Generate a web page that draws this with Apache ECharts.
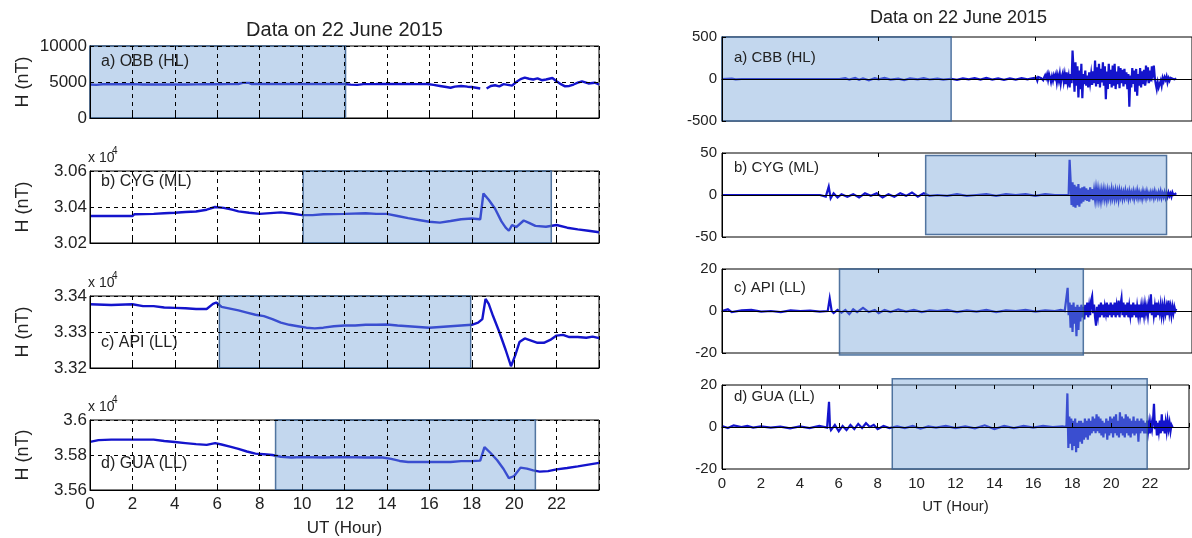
<!DOCTYPE html>
<html>
<head>
<meta charset="utf-8">
<script src="https://cdn.jsdelivr.net/npm/echarts@6/dist/echarts.min.js"></script>
<style>
html, body { margin: 0; padding: 0; background: #fff; }
#chart { width: 1192px; height: 538px; }
</style>
</head>
<body>
<div id="chart"></div>
<script>
// ---- H component (nT) against UT hour, 22 June 2015 ----
// Raw H at four stations: [hour, nT]
const obbH = [
  [0,4650],[0.3,4600],[0.6,4680],[1,4700],[1.5,4690],[2,4700],[2.5,4660],[3,4670],[3.5,4660],[4,4670],
  [4.5,4660],[5,4670],[5.5,4680],[6,4690],[6.5,4700],[7,4720],[7.2,4880],[7.5,4880],[7.6,4720],[8,4720],
  [9,4720],[10,4720],[11,4720],[12,4720],[12.3,4640],[12.6,4600],[12.9,4700],[13.5,4720],[14,4740],[14.5,4720],
  [15,4740],[15.5,4700],[15.9,4720],[16.2,4600],[16.5,4450],[16.8,4300],[17.0,4200],[17.2,4350],[17.5,4450],[17.8,4350],
  [18.0,4300],[18.2,4200],[18.4,4100],[18.5,null],[18.7,4100],[18.9,4450],[19.1,4550],[19.3,4400],[19.5,4700],[19.7,4600],
  [19.9,4500],[20.1,5000],[20.3,5400],[20.5,5600],[20.7,5450],[20.9,5350],[21.1,5500],[21.3,5250],[21.5,5350],[21.8,5550],
  [22.0,5100],[22.2,4700],[22.4,4400],[22.6,4450],[22.8,4650],[23.0,4900],[23.2,5100],[23.5,4800],[23.8,4900],[24,4650]
];
const cygH = [
  [0,30350],[1,30350],[2,30350],[2.1,30360],[3,30362],[3.5,30365],[4,30368],[4.5,30372],[5,30375],[5.5,30385],
  [5.9,30400],[6.3,30395],[6.7,30385],[7,30376],[7.5,30368],[8,30362],[8.5,30366],[9,30370],[9.5,30364],[10,30355],
  [10.5,30355],[11,30360],[12,30362],[13,30365],[13.5,30362],[14,30362],[14.5,30350],[15,30338],[15.5,30328],[16,30318],
  [16.5,30313],[17,30322],[17.5,30332],[18,30336],[18.4,30332],[18.55,30475],[18.8,30440],[19.1,30390],[19.4,30320],[19.6,30285],
  [19.75,30268],[19.9,30300],[20.1,30288],[20.45,30325],[20.7,30312],[21,30295],[21.5,30290],[22,30300],[22.5,30285],[23,30276],
  [23.5,30268],[24,30260]
];
const apiH = [
  [0,33377],[1,33375],[2,33377],[2.5,33372],[3,33372],[3.5,33368],[4,33367],[4.5,33366],[5,33364],[5.5,33364],
  [5.8,33378],[5.95,33382],[6.2,33370],[6.6,33365],[7,33360],[7.4,33354],[7.8,33348],[8.2,33344],[8.6,33336],[9,33326],
  [9.4,33320],[9.8,33316],[10.2,33312],[10.6,33310],[11,33312],[11.5,33316],[12,33318],[12.5,33318],[13,33320],[13.5,33320],
  [14,33321],[14.5,33318],[15,33316],[15.5,33314],[16,33312],[16.5,33314],[17,33316],[17.5,33318],[18,33320],[18.3,33326],
  [18.5,33336],[18.65,33392],[18.8,33378],[19,33345],[19.3,33300],[19.6,33250],[19.85,33205],[20.05,33235],[20.25,33272],[20.5,33282],
  [20.8,33276],[21.1,33270],[21.4,33270],[21.7,33278],[22,33290],[22.3,33292],[22.6,33286],[23,33286],[23.4,33284],[23.7,33287],
  [24,33283]
];
const guaH = [
  [0,35875],[0.4,35885],[1,35888],[2,35888],[3,35888],[3.5,35880],[4,35874],[4.5,35868],[5,35862],[5.5,35858],
  [5.9,35868],[6.2,35860],[6.6,35848],[7,35835],[7.4,35820],[7.8,35808],[8.2,35804],[8.6,35800],[9,35790],[9.5,35786],
  [10,35788],[11,35786],[12,35788],[13,35786],[13.8,35786],[14.2,35778],[14.6,35766],[15,35760],[16,35760],[17,35760],
  [17.5,35765],[18,35765],[18.4,35768],[18.6,35845],[18.9,35810],[19.2,35770],[19.5,35720],[19.75,35668],[20,35680],[20.3,35728],
  [20.6,35722],[20.9,35712],[21.2,35705],[21.6,35708],[22,35718],[22.5,35726],[23,35735],[23.5,35745],[24,35755]
];

// Filtered (detrended) H at four stations: [hour, nT]
const cbbDH = [
  [0,0],[0.5,5],[0.7,-5],[1,0],[2,0],[3,0],[4,0],[5,0],[6,0],[6.3,10],
  [6.5,-8],[6.8,12],[7,-10],[7.2,8],[7.5,-15],[7.8,10],[8,-5],[8.3,12],[8.6,-8],[9,5],
  [9.3,-12],[9.6,8],[10,-5],[10.3,10],[10.6,-6],[11,5],[11.3,-8],[11.7,3],[12,-10],[12.3,8],
  [12.6,-5],[12.9,10],[13.2,-8],[13.5,12],[13.8,-6],[14.1,8],[14.4,-10],[14.7,6],[15,-8],[15.3,10],
  [15.6,-5],[15.9,12],
  [16.0,-10],[16.05,15],[16.1,-20],[16.15,25],[16.2,5],[16.25,40],[16.3,10],[16.35,30],[16.4,-15],[16.45,20],
  [16.5,45],[16.55,10],[16.6,55],[16.65,-10],[16.7,60],[16.75,20],[16.8,-35],[16.85,30],[16.9,-20],[16.95,45],
  [17.0,10],[17.05,55],[17.1,-40],[17.15,40],[17.2,-20],[17.25,60],[17.3,-50],[17.35,30],[17.4,70],[17.45,-30],
  [17.5,50],[17.55,-60],[17.6,80],[17.65,-40],[17.7,30],[17.75,-100],[17.8,60],[17.85,-50],[17.9,340],[17.95,120],
  [18.0,-150],[18.05,200],[18.1,-80],[18.15,150],[18.2,-220],[18.25,100],[18.3,-120],[18.35,180],[18.4,-230],[18.45,60],
  [18.5,-60],[18.55,100],[18.6,-80],[18.65,40],[18.7,-100],[18.75,80],[18.8,-40],[18.85,60],[18.9,-70],[18.95,90],
  [19.0,-50],[19.05,220],[19.1,-90],[19.15,140],[19.2,-60],[19.25,180],[19.3,-100],[19.35,120],[19.4,-40],[19.45,200],
  [19.5,-80],[19.55,150],[19.6,-240],[19.65,90],[19.7,-120],[19.75,180],[19.8,-60],[19.85,110],[19.9,-100],[19.95,160],
  [20.0,-80],[20.05,180],[20.1,-120],[20.15,90],[20.2,-60],[20.25,150],[20.3,-110],[20.35,130],[20.4,-50],[20.45,110],
  [20.5,-90],[20.55,120],[20.6,-60],[20.65,80],[20.7,-120],[20.75,60],[20.8,-330],[20.85,40],[20.9,-100],[20.95,130],
  [21.0,-60],[21.05,100],[21.1,-150],[21.15,120],[21.2,-200],[21.25,60],[21.3,-80],[21.35,130],[21.4,-100],[21.45,90],
  [21.5,-60],[21.55,110],[21.6,-80],[21.65,160],[21.7,40],[21.75,140],[21.8,-50],[21.85,100],[21.9,-30],[21.95,150],
  [22.0,60],[22.05,160],[22.1,20],[22.15,-60],[22.2,-120],[22.25,-40],[22.3,-100],[22.35,-60],[22.4,-20],[22.45,-80],
  [22.5,10],[22.55,-30],[22.6,20],[22.65,-10],[22.7,30],[22.75,-40],[22.8,10],[22.85,-20],[22.9,15],[22.95,0],
  [23.0,10],[23.1,-5],[23.2,5]
];
const cygDH = [
  [0,0],[1,0],[2,0],[3,0],[4,0],[5,0],[5.1,1],[5.3,-2],[5.45,10],[5.55,-4],
  [5.7,2],[5.9,-3],[6.1,1],[6.4,-2],[6.7,1],[7,-3],[7.3,2],[7.6,-1],[7.9,2],[8.2,-3],
  [8.5,1],[8.8,-2],[9.1,2],[9.4,-1],[9.7,3],[10,-2],[10.3,2],[10.6,-1],[11,0],[11.5,-1],
  [12,1],[12.5,-1],[13,0],[13.5,1],[14,-1],[14.5,1],[15,0],[15.5,1],[16,-1],[16.5,1],
  [17,0],[17.5,0],
  [17.7,0],[17.75,42],[17.8,18],[17.85,-12],[17.9,15],[17.95,-14],[18.0,12],[18.05,-15],[18.1,10],[18.15,-12],
  [18.2,13],[18.25,-14],[18.3,8],[18.35,-10],[18.4,9],[18.45,-8],[18.5,10],[18.55,-6],[18.6,8],[18.65,-7],
  [18.7,6],[18.75,-8],[18.8,9],[18.85,-5],[18.9,7],[18.95,-6],[19.0,5],[19.05,-5],[19.1,7],[19.15,-4],
  [19.2,6],[19.25,-5],[19.3,4],[19.35,-6],[19.4,5],[19.45,-3],[19.5,6],[19.55,-4],[19.6,4],[19.65,-5],
  [19.7,5],[19.75,-3],[19.8,4],[19.85,-4],[19.9,6],[19.95,-3],[20.0,4],[20.05,-4],[20.1,5],[20.15,-3],
  [20.2,4],[20.25,-5],[20.3,5],[20.35,-2],[20.4,4],[20.45,-4],[20.5,3],[20.55,-3],[20.6,5],[20.65,-2],
  [20.7,3],[20.75,-4],[20.8,4],[20.85,-3],[20.9,3],[20.95,-2],[21.0,4],[21.05,-4],[21.1,3],[21.15,-2],
  [21.2,5],[21.25,-3],[21.3,3],[21.35,-3],[21.4,2],[21.45,-4],[21.5,4],[21.55,-2],[21.6,3],[21.65,-3],
  [21.7,4],[21.75,-2],[21.8,2],[21.85,-3],[21.9,3],[21.95,-2],[22.0,3],[22.05,-3],[22.1,4],[22.15,-2],
  [22.2,2],[22.25,-3],[22.3,3],[22.35,-2],[22.4,4],[22.45,-3],[22.5,2],[22.55,-2],[22.6,3],[22.65,-3],
  [22.7,2],[22.75,-2],[22.8,3],[22.85,-1],[22.9,2],[22.95,-2],[23.0,3],[23.05,0],[23.1,2],[23.15,-1],
  [23.2,2]
];
const apiDH = [
  [0,0],[0.3,0.8],[0.5,-0.5],[1,0.3],[1.5,0.5],[2,-0.3],[2.5,0],[3,-0.5],[3.5,0.3],[4,0],
  [4.5,0.2],[5,-0.3],[5.4,0],[5.5,6],[5.6,0],[5.7,-1],[5.9,0.5],[6.1,-0.8],[6.3,0.5],[6.5,-1.5],
  [6.7,0.8],[6.9,-0.5],[7.2,1.5],[7.5,-0.5],[7.8,0.5],[8,-1],[8.3,0.5],[8.6,-0.5],[9,0.8],[9.4,-0.3],
  [9.8,0.5],[10.2,-0.5],[10.6,0.3],[11,0],[11.5,0.5],[12,-0.5],[12.5,0.3],[13,-0.3],[13.5,0.5],[14,-0.5],
  [14.5,0.3],[15,0],[15.5,0.5],[16,-0.3],[16.5,0.3],[17,0],[17.3,0.5],[17.5,0],
  [17.6,0],[17.65,11],[17.7,-2],[17.75,4],[17.8,-8],[17.85,3],[17.9,-10],[17.95,4],[18.0,-6],[18.05,2],
  [18.1,-12],[18.15,3],[18.2,-9],[18.25,2],[18.3,-5],[18.35,3],[18.4,-3],[18.45,2],[18.5,-4],[18.55,3],
  [18.6,-2],[18.65,4],[18.7,-3],[18.75,2],[18.8,-2],[18.85,5],[18.9,7],[18.95,-1],[19.0,3],[19.05,-3],
  [19.1,-7],[19.15,2],[19.2,-2],[19.25,3],[19.3,-3],[19.35,4],[19.4,-2],[19.45,3],[19.5,-3],[19.55,2],
  [19.6,-1],[19.65,4],[19.7,-3],[19.75,3],[19.8,-2],[19.85,4],[19.9,-3],[19.95,3],[20.0,-2],[20.05,4],
  [20.1,-3],[20.15,2],[20.2,-2],[20.25,5],[20.3,-3],[20.35,3],[20.4,6],[20.45,-2],[20.5,4],[20.55,-3],
  [20.6,3],[20.65,-2],[20.7,4],[20.75,-3],[20.8,2],[20.85,-2],[20.9,3],[20.95,-3],[21.0,4],[21.05,-2],
  [21.1,3],[21.15,-3],[21.2,2],[21.25,-2],[21.3,3],[21.35,-2],[21.4,2],[21.45,-3],[21.5,2],[21.55,-2],
  [21.6,3],[21.65,-1],[21.7,2],[21.75,-2],[21.8,3],[21.85,-1],[21.9,8],[21.95,-2],[22.0,3],[22.05,-2],
  [22.1,2],[22.15,-3],[22.2,4],[22.25,-2],[22.3,2],[22.35,-1],[22.4,3],[22.45,-2],[22.5,2],[22.55,-2],
  [22.6,3],[22.65,-1],[22.7,2],[22.75,-2],[22.8,5],[22.85,-1],[22.9,2],[22.95,-2],[23.0,2],[23.05,-1],
  [23.1,2],[23.15,0],[23.2,1]
];
const guaDH = [
  [0,0.5],[0.3,-0.5],[0.6,0.8],[1,0],[1.3,0.5],[1.6,-0.3],[2,0.3],[2.5,-0.3],[3,0.2],[3.5,-0.6],
  [4,0.3],[4.5,-0.5],[5,0.5],[5.4,-0.3],[5.5,12],[5.55,0],[5.6,-1.5],[5.8,1],[6,-2],[6.2,0.5],
  [6.4,-1.5],[6.6,1],[6.8,-1],[7,1.5],[7.2,-0.5],[7.4,1.8],[7.6,0],[7.8,1],[8,-1],[8.3,0.5],
  [8.6,-0.5],[9,0.3],[9.4,-0.5],[9.8,0.5],[10.2,-0.8],[10.6,0.3],[11,-0.3],[11.5,0.5],[12,-0.5],[12.5,0.3],
  [13,-0.6],[13.5,0.8],[14,-1],[14.5,0.5],[15,-0.5],[15.5,0.5],[16,-0.3],[16.5,0.5],[17,0],[17.5,0.3],
  [17.7,0],[17.75,16],[17.8,-10],[17.85,5],[17.9,-8],[17.95,4],[18.0,-11],[18.05,3],[18.1,-9],[18.15,4],
  [18.2,-12],[18.25,2],[18.3,-10],[18.35,3],[18.4,-7],[18.45,3],[18.5,-8],[18.55,2],[18.6,-6],[18.65,4],
  [18.7,-5],[18.75,3],[18.8,-6],[18.85,4],[18.9,-4],[18.95,3],[19.0,-3],[19.05,5],[19.1,-2],[19.15,4],
  [19.2,-3],[19.25,6],[19.3,-2],[19.35,5],[19.4,-3],[19.45,4],[19.5,-4],[19.55,3],[19.6,-5],[19.65,2],
  [19.7,-3],[19.75,4],[19.8,-6],[19.85,3],[19.9,-4],[19.95,5],[20.0,-3],[20.05,4],[20.1,-5],[20.15,5],
  [20.2,-3],[20.25,6],[20.3,-4],[20.35,3],[20.4,-5],[20.45,7],[20.5,-3],[20.55,5],[20.6,-4],[20.65,4],
  [20.7,-5],[20.75,6],[20.8,-3],[20.85,5],[20.9,-4],[20.95,4],[21.0,-5],[21.05,3],[21.1,-3],[21.15,5],
  [21.2,-4],[21.25,3],[21.3,-3],[21.35,4],[21.4,-7],[21.45,3],[21.5,-3],[21.55,4],[21.6,-2],[21.65,3],
  [21.7,-3],[21.75,2],[21.8,-3],[21.85,3],[21.9,-2],[21.95,2],[22.0,-3],[22.05,2],[22.1,-1],[22.15,3],
  [22.2,11],[22.25,-1],[22.3,3],[22.35,-4],[22.4,2],[22.45,-2],[22.5,3],[22.55,-3],[22.6,6],[22.65,-2],
  [22.7,3],[22.75,-3],[22.8,2],[22.85,-2],[22.9,3],[22.95,-1],[23.0,2],[23.05,-2],[23.1,1],[23.15,0],
  [23.2,0]
];

// Highlighted intervals: [startHour, endHour, lowValue, highValue]
const rawWindows = [[0,12.05,0,10000],[10.05,21.75,30200,30600],[6.1,17.95,33200,33400],[8.75,21.0,35600,36000]];
const filtWindows = [[0,11.7,-500,500],[10.4,22.7,-47,47],[6.0,18.45,-21,20],[8.75,21.85,-20,23]];

// Axis ranges: [min, max, step]
const rawRanges = [[0,10000,5000],[30200,30600,200],[33200,33400,100],[35600,36000,200]];
const filtRanges = [[-500,500,500],[-50,50,50],[-20,20,20],[-20,20,20]];

const rawNames = ['a) OBB (HL)', 'b) CYG (ML)', 'c) API (LL)', 'd) GUA (LL)'];
const filtNames = ['a) CBB (HL)', 'b) CYG (ML)', 'c) API (LL)', 'd) GUA (LL)'];
const chartTitle = 'Data on 22 June 2015';
const xName = 'UT (Hour)';
const yName = 'H (nT)';

// ---- layout ----
const NARROW = '"Liberation Sans Narrow", "Liberation Sans", Arial, sans-serif';
const SANS = '"Liberation Sans", Arial, sans-serif';
const LINE_COLOR = '#1414cc';
const SHADE_FILL = 'rgba(112,160,214,0.42)';
const SHADE_EDGE = 'rgba(55,95,145,0.85)';
const TEXT = '#222';

const leftCol = { left: 90, width: 509, tops: [46, 171, 296, 420], height: 72 };
const rightCol = { left: 722, width: 473, tops: [37, 153, 269, 385], height: 84 };
const rawLabelFrac = [0.22, 0.15, 0.65, 0.6];
const filtLabelFrac = [0.25, 0.18, 0.23, 0.14];

const grids = [], xAxes = [], yAxes = [], series = [], graphics = [];

function shadeSeries(xi, yi, win) {
  return {
    type: 'custom', xAxisIndex: xi, yAxisIndex: yi, z: 5, silent: true, clip: false,
    data: [win],
    renderItem: function (params, api) {
      const p0 = api.coord([api.value(0), api.value(3)]);
      const p1 = api.coord([api.value(1), api.value(2)]);
      return {
        type: 'rect',
        shape: { x: p0[0], y: p0[1], width: p1[0] - p0[0], height: p1[1] - p0[1] },
        style: { fill: SHADE_FILL, stroke: SHADE_EDGE, lineWidth: 1.5 }
      };
    }
  };
}

function sciLabel(v) { return String(parseFloat((v / 1e4).toFixed(2))); }

// Left column: raw H
const rawData = [obbH, cygH, apiH, guaH];
rawData.forEach(function (d, i) {
  const top = leftCol.tops[i];
  const bottom = i === 3;
  const r = rawRanges[i];
  const gi = grids.length;
  grids.push({ left: leftCol.left, top: top, width: leftCol.width, height: leftCol.height,
    show: true, borderColor: '#000', borderWidth: 1, backgroundColor: '#fff' });
  const xi = xAxes.length;
  xAxes.push({
    gridIndex: gi, type: 'value', min: 0, max: 24, interval: 2, z: 10,
    axisLine: { show: true, lineStyle: { color: '#000', width: 1 } },
    axisTick: { show: true, inside: true, length: 4, lineStyle: { color: '#000' } },
    axisLabel: { show: bottom, color: TEXT, fontFamily: NARROW, fontSize: 17, margin: 6,
      formatter: function (v) { return v === 24 ? '' : String(v); } },
    splitLine: { show: true, lineStyle: { color: '#000', width: 1, type: [4, 4] } },
    name: bottom ? xName : '', nameLocation: 'middle', nameGap: 30,
    nameTextStyle: { color: TEXT, fontFamily: NARROW, fontSize: 17 }
  });
  const yi = yAxes.length;
  yAxes.push({
    gridIndex: gi, type: 'value', min: r[0], max: r[1], interval: r[2], z: 10,
    axisLine: { show: true, lineStyle: { color: '#000', width: 1 } },
    axisTick: { show: true, inside: true, length: 4, lineStyle: { color: '#000' } },
    axisLabel: { color: TEXT, fontFamily: NARROW, fontSize: 17, margin: 3,
      formatter: i === 0 ? function (v) { return String(v); } : sciLabel },
    splitLine: { show: true, lineStyle: { color: '#000', width: 1, type: [4, 4] } },
    name: yName, nameLocation: 'middle', nameGap: 58, nameRotate: 90,
    nameTextStyle: { color: TEXT, fontFamily: NARROW, fontSize: 18 }
  });
  series.push({
    type: 'line', xAxisIndex: xi, yAxisIndex: yi, data: d, showSymbol: false, z: 2,
    connectNulls: false, lineStyle: { color: LINE_COLOR, width: 2.4 }, animation: false
  });
  series.push(shadeSeries(xi, yi, rawWindows[i]));
  graphics.push({ type: 'text', x: leftCol.left + 11, y: top + leftCol.height * rawLabelFrac[i], z: 20,
    style: { text: rawNames[i], fill: TEXT, font: '16px ' + NARROW, textVerticalAlign: 'middle' } });
  if (i > 0) {
    graphics.push({ type: 'text', x: leftCol.left - 2, y: top - 13, z: 20,
      style: { text: 'x 10', fill: TEXT, font: '14px ' + NARROW, textVerticalAlign: 'middle' } });
    graphics.push({ type: 'text', x: leftCol.left + 22, y: top - 20, z: 20,
      style: { text: '4', fill: TEXT, font: '10px ' + NARROW, textVerticalAlign: 'middle' } });
  }
});

// Right column: filtered H
const filtData = [cbbDH, cygDH, apiDH, guaDH];
filtData.forEach(function (d, i) {
  const top = rightCol.tops[i];
  const bottom = i === 3;
  const r = filtRanges[i];
  const gi = grids.length;
  grids.push({ left: rightCol.left, top: top, width: rightCol.width, height: rightCol.height,
    show: true, borderColor: '#000', borderWidth: 1, backgroundColor: '#fff' });
  const xStep = bottom ? 2 : 8;
  const xi = xAxes.length;
  xAxes.push({
    gridIndex: gi, type: 'value', min: 0, max: 24, interval: xStep, z: 10,
    axisLine: { show: true, lineStyle: { color: '#000', width: 1 } },
    axisTick: { show: true, inside: true, length: 4, lineStyle: { color: '#000' } },
    axisLabel: { show: bottom, color: TEXT, fontFamily: SANS, fontSize: 15, margin: 7,
      formatter: function (v) { return v === 24 ? '' : String(v); } },
    splitLine: { show: false },
    name: bottom ? xName : '', nameLocation: 'middle', nameGap: 30,
    nameTextStyle: { color: TEXT, fontFamily: SANS, fontSize: 15 }
  });
  // top-edge ticks
  xAxes.push({
    gridIndex: gi, type: 'value', position: 'top', min: 0, max: 24, interval: xStep, z: 10,
    axisLine: { show: false }, axisLabel: { show: false }, splitLine: { show: false },
    axisTick: { show: true, inside: true, length: 4, lineStyle: { color: '#000' } }
  });
  const yi = yAxes.length;
  yAxes.push({
    gridIndex: gi, type: 'value', min: r[0], max: r[1], interval: r[2], z: 10,
    axisLine: { show: true, lineStyle: { color: '#000', width: 1 } },
    axisTick: { show: true, inside: true, length: 4, lineStyle: { color: '#000' } },
    axisLabel: { color: TEXT, fontFamily: SANS, fontSize: 15, margin: 5 },
    splitLine: { show: false }
  });
  series.push({
    type: 'line', xAxisIndex: xi, yAxisIndex: yi, data: d, showSymbol: false, z: 2,
    lineStyle: { color: LINE_COLOR, width: 2.2, join: 'miter' }, animation: false
  });
  series.push(shadeSeries(xi, yi, filtWindows[i]));
  graphics.push({ type: 'text', x: rightCol.left + 12, y: top + rightCol.height * filtLabelFrac[i], z: 20,
    style: { text: filtNames[i], fill: TEXT, font: '15px ' + SANS, textVerticalAlign: 'middle' } });
});

graphics.push({ type: 'text', x: leftCol.left + leftCol.width / 2, y: 30, z: 20,
  style: { text: chartTitle, fill: TEXT, font: '20px ' + NARROW, textAlign: 'center', textVerticalAlign: 'middle' } });
graphics.push({ type: 'text', x: rightCol.left + rightCol.width / 2, y: 18, z: 20,
  style: { text: chartTitle, fill: TEXT, font: '18px ' + SANS, textAlign: 'center', textVerticalAlign: 'middle' } });

const chart = echarts.init(document.getElementById('chart'), null, { renderer: 'canvas' });
chart.setOption({
  animation: false,
  backgroundColor: '#fff',
  grid: grids,
  xAxis: xAxes,
  yAxis: yAxes,
  series: series,
  graphic: graphics
});
</script>
</body>
</html>
